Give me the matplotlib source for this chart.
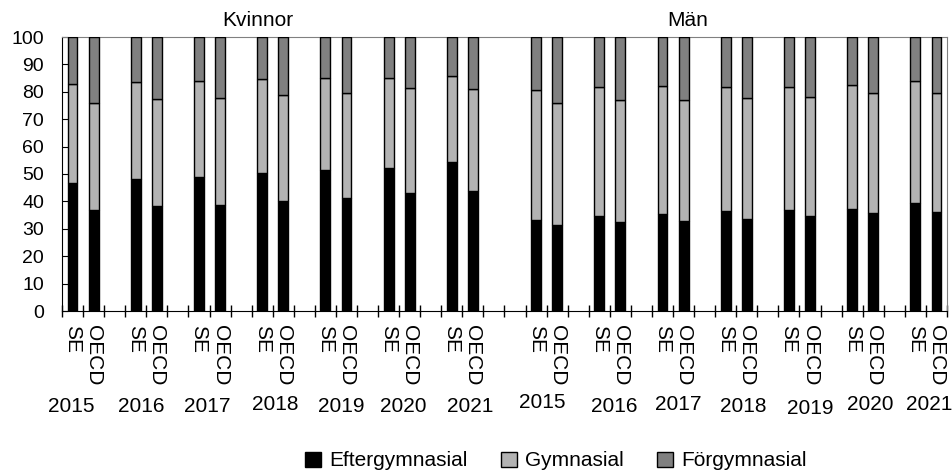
import matplotlib
matplotlib.use("Agg")
import matplotlib.pyplot as plt
import matplotlib.transforms as mtransforms
from matplotlib.patches import Patch
import numpy as np

plt.rcParams['font.family'] = ['Liberation Sans', 'DejaVu Sans']

#=====Data (percent of population)=====
years = ['2015', '2016', '2017', '2018', '2019', '2020', '2021']
groups = ['Kvinnor', 'Män']
countries = ['SE', 'OECD']
series = ['Eftergymnasial', 'Gymnasial', 'Förgymnasial']

kv_se_efter = [46.8, 48.1, 48.8, 50.4, 51.5, 52.2, 54.3]
kv_se_gym = [36.0, 35.4, 35.0, 34.1, 33.7, 33.0, 31.3]
kv_se_forg = [17.2, 16.5, 16.2, 15.5, 14.8, 14.8, 14.4]

kv_oecd_efter = [36.7, 38.2, 38.8, 40.1, 41.4, 42.9, 43.8]
kv_oecd_gym = [39.3, 39.2, 39.1, 38.6, 38.2, 38.4, 37.3]
kv_oecd_forg = [24.0, 22.6, 22.1, 21.3, 20.4, 18.7, 18.9]

man_se_efter = [33.1, 34.5, 35.5, 36.4, 36.9, 37.3, 39.3]
man_se_gym = [47.7, 47.4, 46.6, 45.5, 45.0, 45.1, 44.5]
man_se_forg = [19.2, 18.1, 17.9, 18.1, 18.1, 17.6, 16.2]

man_oecd_efter = [31.3, 32.4, 32.8, 33.6, 34.5, 35.8, 36.3]
man_oecd_gym = [44.6, 44.7, 44.3, 44.0, 43.7, 43.8, 43.1]
man_oecd_forg = [24.1, 22.9, 22.9, 22.4, 21.8, 20.4, 20.6]

colors = ['#000000', '#b3b3b3', '#808080']

#=====Layout=====
# each year takes 3 slots (SE, OECD, gap); Män starts at slot 22
slots_per_year = 3
group_start = [0, 22]
n_slots = 42
bar_w = 0.47
# small nudges of the year labels (slots, px) as in the original layout
year_dx = [[-0.55, -0.25, -0.12, 0.11, 0.24, 0.19, 0.38],
           [-0.22, 0.20, 0.24, 0.33, 0.50, 0.35, 0.14]]
year_dy = [[0, 0, 0, -2, 0, 0, 0],
           [-4, 0, -3, 0, 1, -2, -2]]

data = {('Kvinnor', 'SE'): [kv_se_efter, kv_se_gym, kv_se_forg],
        ('Kvinnor', 'OECD'): [kv_oecd_efter, kv_oecd_gym, kv_oecd_forg],
        ('Män', 'SE'): [man_se_efter, man_se_gym, man_se_forg],
        ('Män', 'OECD'): [man_oecd_efter, man_oecd_gym, man_oecd_forg]}

fig = plt.figure(figsize=(9.52, 4.75), dpi=100)
ax = fig.add_axes([62/952, 1-311/475, (947-62)/952, (311-37)/475])

#=====Bars=====
label_pos, label_txt = [], []
for g, grp in enumerate(groups):
    for c, cty in enumerate(countries):
        pos = np.array([group_start[g] + i*slots_per_year + c + 0.5 for i in range(len(years))])
        bottom = np.zeros(len(years))
        for k, vals in enumerate(data[(grp, cty)]):
            ax.bar(pos, vals, bar_w, bottom=bottom, color=colors[k],
                   edgecolor='black', linewidth=1.0, zorder=3)
            bottom += np.array(vals)
        label_pos += list(pos)
        label_txt += [cty]*len(years)

#=====Axes=====
ax.set_xlim(0, n_slots)
ax.set_ylim(0, 100)
ax.set_yticks(np.arange(0, 101, 10))
ax.tick_params(axis='y', direction='in', length=4, labelsize=14, pad=13)
ax.set_xticks(np.arange(0, n_slots + 1))
ax.set_xticklabels([])
ax.tick_params(axis='x', which='major', direction='inout', length=8, width=1)
ax.set_xticks(label_pos, minor=True)
ax.set_xticklabels(label_txt, minor=True, rotation=-90, fontsize=15)
ax.tick_params(axis='x', which='minor', length=0, pad=10)

for s in ['top', 'right']:
    ax.spines[s].set_color('#808080')
for s in ['left', 'bottom']:
    ax.spines[s].set_color('black')

#=====Year labels and group titles=====
trans = mtransforms.blended_transform_factory(ax.transData, fig.transFigure)
for g in range(len(groups)):
    for i, yr in enumerate(years):
        x = group_start[g] + i*slots_per_year + 1 + year_dx[g][i]
        y = 1 - (407 + year_dy[g][i])/475
        fig.text(x, y, yr, transform=trans, ha='center', va='center', fontsize=15)

title_x = [9.3, 29.7]
for g, grp in enumerate(groups):
    fig.text(title_x[g], 1 - 20/475, grp, transform=trans, ha='center', va='center', fontsize=15)

#=====Legend=====
handles = [Patch(facecolor=colors[k], edgecolor='black', linewidth=1.0) for k in range(3)]
fig.legend(handles, series, loc='center', bbox_to_anchor=(556/952, 1 - 461/475), ncol=3,
           frameon=False, fontsize=15, handlelength=0.75, handleheight=0.75,
           handletextpad=0.4, columnspacing=1.6)

plt.savefig('out.png', dpi=100)
